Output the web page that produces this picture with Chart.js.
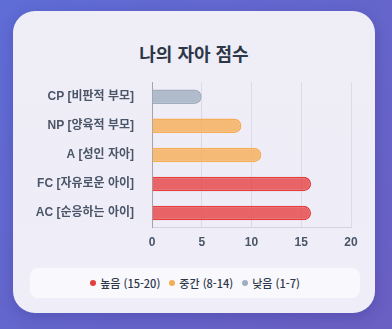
<!DOCTYPE html>
<html lang="ko">
<head>
<meta charset="utf-8">
<script src="https://cdn.jsdelivr.net/npm/chart.js@4"></script>
<style>
  html, body { margin: 0; padding: 0; }
  body {
    width: 392px; height: 329px; overflow: hidden; position: relative;
    background: linear-gradient(135deg, #5f6dd6 0%, #6a5fc2 100%);
    font-family: "Noto Sans CJK KR", "Noto Sans", sans-serif;
  }
  .card {
    position: absolute; left: 13px; top: 11px; width: 362px; height: 302px;
    border-radius: 22px;
    background: linear-gradient(180deg, #efeef7 0%, #eeedf8 100%);
    box-shadow: 0 4px 14px rgba(40, 30, 120, 0.25);
  }
  h2 {
    position: absolute; left: 0; top: 29px; width: 362px; margin: 0;
    text-align: center; font-size: 18px; font-weight: 700; color: #2d3748;
    font-family: "Liberation Sans", "Noto Sans CJK KR", sans-serif;
  }
  .chart-box { position: absolute; left: 0; top: 54px; width: 362px; height: 193px; }
  .legend {
    position: absolute; left: 17px; top: 257px; width: 330px; height: 30px;
    border-radius: 8px; background: rgba(255, 255, 255, 0.65);
    display: flex; justify-content: center; align-items: center; gap: 9px;
    font-size: 11px; font-weight: 500; color: #2d3748;
  }
  .legend span { display: flex; align-items: center; }
  .legend i { display: inline-block; width: 6px; height: 6px; border-radius: 50%; margin-right: 4px; }
</style>
</head>
<body>
<div class="card">
  <h2>나의 자아 점수</h2>
  <div class="chart-box"><canvas id="egoChart"></canvas></div>
  <div class="legend" id="legend"></div>
</div>
<script>
const labels = ['CP [비판적 부모]', 'NP [양육적 부모]', 'A [성인 자아]', 'FC [자유로운 아이]', 'AC [순응하는 아이]'];
const scores = [5, 9, 11, 16, 16];
const xTicks = [0, 5, 10, 15, 20];
const levelNames = ['높음 (15-20)', '중간 (8-14)', '낮음 (1-7)'];

const solid = { high: '#e53e3e', mid: '#f6ad55', low: '#a0aec0' };
const fill = { high: 'rgba(229,62,62,0.78)', mid: 'rgba(246,173,85,0.8)', low: 'rgba(160,174,192,0.8)' };
const tickFont = { size: 12, weight: 'bold', family: '"Liberation Sans", "Noto Sans CJK KR", sans-serif' };

function level(v) {
  if (v >= 15) return 'high';
  if (v >= 8) return 'mid';
  return 'low';
}

// legend below the chart
const legendEl = document.getElementById('legend');
['high', 'mid', 'low'].forEach(function (k, i) {
  legendEl.innerHTML += '<span><i style="background:' + solid[k] + '"></i>' + levelNames[i] + '</span>';
});

new Chart('egoChart', {
  type: 'bar',
  data: {
    labels: labels,
    datasets: [{
      data: scores,
      backgroundColor: scores.map(v => fill[level(v)]),
      borderColor: scores.map(v => solid[level(v)]),
      borderWidth: 1.5,
      borderRadius: 20,
      borderSkipped: 'start',
      barPercentage: 0.5,
      categoryPercentage: 1
    }]
  },
  options: {
    indexAxis: 'y',
    responsive: true,
    maintainAspectRatio: false,
    animation: false,
    layout: { padding: { top: 0, right: 24, left: 0, bottom: 0 } },
    plugins: { legend: { display: false }, tooltip: { enabled: false } },
    scales: {
      x: {
        min: 0, max: 20,
        afterBuildTicks: function (s) { s.ticks = xTicks.map(v => ({ value: v })); },
        grid: { color: 'rgba(0,0,0,0.08)', drawTicks: false },
        border: { color: 'rgba(0,0,0,0.1)' },
        ticks: { padding: 8, color: '#4a5568', font: tickFont }
      },
      y: {
        grid: { display: false },
        border: { color: 'rgba(0,0,0,0.25)' },
        afterFit: function (s) { s.width = 139; },
        ticks: { padding: 10, color: '#4a5568', font: tickFont }
      }
    }
  }
});
</script>
</body>
</html>
